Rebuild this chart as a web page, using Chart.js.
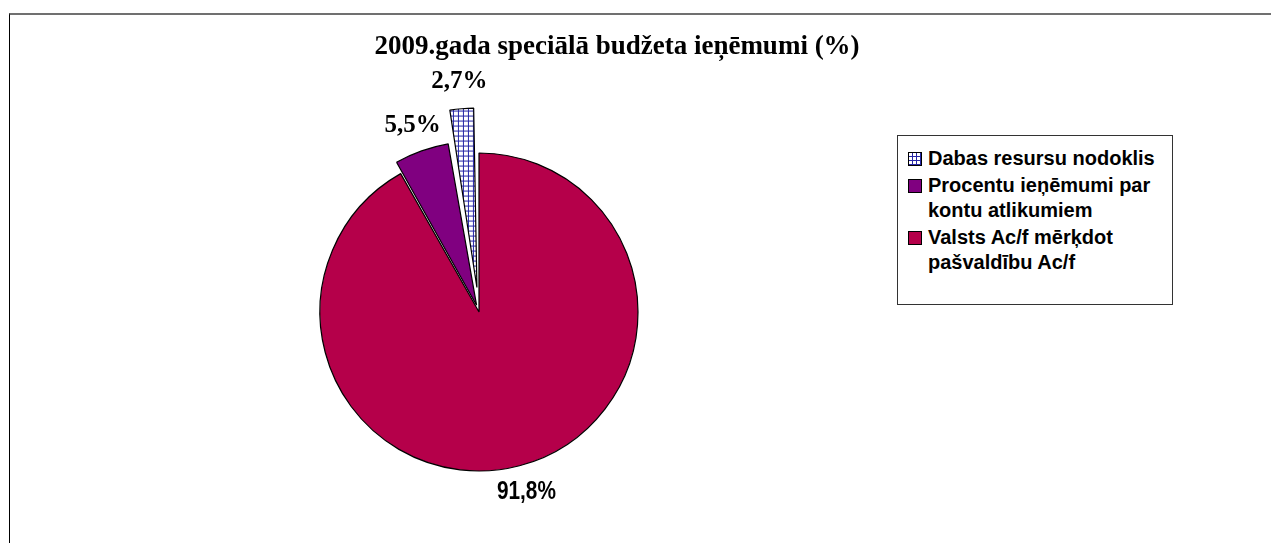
<!DOCTYPE html>
<html>
<head>
<meta charset="utf-8">
<script src="https://cdn.jsdelivr.net/npm/chart.js@4.4.1/dist/chart.umd.min.js"></script>
<style>
  html, body { margin: 0; padding: 0; background: #fff; }
  body { width: 1271px; height: 543px; position: relative; overflow: hidden; }
  #frame { position: absolute; left: 9px; top: 13px; right: 0; bottom: 0;
           border-top: 2px solid #707070; border-left: 1px solid #000; }
  #chartWrap { position: absolute; left: 0; top: 0; width: 1271px; height: 543px; }
  #title { position: absolute; left: 0; width: 1234px; top: 30px; text-align: center;
           font: bold 27px/30px "Liberation Serif", "Times New Roman", serif; color: #000; }
  #legend { position: absolute; left: 897px; top: 135px; width: 276px; height: 170px;
            box-sizing: border-box; border: 1px solid #333; background: #fff;
            padding: 10px 0 0 10px;
            font: bold 20px "Liberation Sans", Arial, sans-serif; color: #000; }
  .item { display: flex; align-items: flex-start; margin-bottom: 2px; line-height: 25px; }
  .swatch { width: 12px; height: 12px; border: 1px solid #000; margin: 6px 6px 0 0; flex: none; }
  .grid { background-color: #fff;
          background-image: linear-gradient(#2626a6 1px, transparent 1px),
                            linear-gradient(90deg, #2626a6 1px, transparent 1px);
          background-size: 4px 4px; background-position: -1px -1px; }
</style>
</head>
<body>
<div id="frame"></div>
<div id="chartWrap"><canvas id="pieChart"></canvas></div>
<div id="title">2009.gada speciālā budžeta ieņēmumi (%)</div>
<div id="legend"></div>
<script>
// data, in the order of the legend
const categories = [
    ['Dabas resursu nodoklis'],
    ['Procentu ieņēmumi par', 'kontu atlikumiem'],
    ['Valsts Ac/f mērķdot', 'pašvaldību Ac/f']
];
const shares = [2.7, 5.5, 91.8];

// styles (same order)
const sliceColors = [null, '#800080', '#b5004a']; // null -> grid pattern
const sliceShift = [45, 12, 0];   // how far a slice is pulled out, px
const labelFonts = [
    'bold 25px "Liberation Serif", "Times New Roman", serif',
    'bold 25px "Liberation Serif", "Times New Roman", serif',
    'bold 26px "Liberation Sans", Arial, sans-serif'
];
const labelSqueeze = [1, 1, 0.8];
const labelGap = 27;

function gridPattern() {
    const c = document.createElement('canvas');
    c.width = 5; c.height = 5;
    const g = c.getContext('2d');
    g.fillStyle = '#fff'; g.fillRect(0, 0, 5, 5);
    g.fillStyle = '#2626a6';
    g.fillRect(0, 0, 5, 1);
    g.fillRect(0, 0, 1, 5);
    return g.createPattern(c, 'repeat');
}

// Chart.js arcs move by offset/4 * (2 - sin(sweep)); turn a wanted shift into that option
const total = shares.reduce((a, b) => a + b, 0);
const toOffset = (shift, v) => {
    const sweep = Math.min(Math.PI, 2 * Math.PI * v / total);
    return shift / (0.25 * (2 - Math.sin(sweep)));
};

const fills = sliceColors.map(c => c || gridPattern());
// pie goes clockwise from 12 o'clock in reverse legend order
const rev = a => a.slice().reverse();

const sliceLabels = {
    id: 'sliceLabels',
    afterDatasetsDraw(chart) {
        const ctx = chart.ctx;
        const ds = chart.data.datasets[0];
        const fonts = rev(labelFonts), squeeze = rev(labelSqueeze), shift = rev(sliceShift);
        chart.getDatasetMeta(0).data.forEach((arc, i) => {
            const p = arc.getProps(['x', 'y', 'startAngle', 'endAngle', 'outerRadius'], true);
            const mid = (p.startAngle + p.endAngle) / 2;
            const d = shift[i] + p.outerRadius + labelGap;
            ctx.save();
            ctx.translate(p.x + Math.cos(mid) * d, p.y + Math.sin(mid) * d);
            ctx.scale(squeeze[i], 1);
            ctx.font = fonts[i];
            ctx.fillStyle = '#000';
            ctx.textAlign = 'center';
            ctx.textBaseline = 'middle';
            ctx.fillText(ds.data[i].toFixed(1).replace('.', ',') + '%', 0, 0);
            ctx.restore();
        });
    }
};

new Chart(document.getElementById('pieChart'), {
    type: 'pie',
    data: {
        labels: rev(categories),
        datasets: [{
            data: rev(shares),
            backgroundColor: rev(fills),
            borderColor: '#000',
            borderWidth: 1.2,
            offset: rev(sliceShift.map((s, i) => toOffset(s, shares[i]))),
            hoverOffset: 0
        }]
    },
    options: {
        responsive: true,
        maintainAspectRatio: false,
        animation: false,
        events: [],
        radius: 159,
        layout: { padding: { left: 309, right: 622, top: 142, bottom: 61 } },
        plugins: { legend: { display: false }, tooltip: { enabled: false } }
    },
    plugins: [sliceLabels]
});

// html legend
const legend = document.getElementById('legend');
categories.forEach((lines, i) => {
    const item = document.createElement('div');
    item.className = 'item';
    const sw = document.createElement('div');
    sw.className = 'swatch' + (sliceColors[i] ? '' : ' grid');
    if (sliceColors[i]) sw.style.background = sliceColors[i];
    const txt = document.createElement('div');
    txt.innerHTML = lines.join('<br>');
    item.appendChild(sw);
    item.appendChild(txt);
    legend.appendChild(item);
});
</script>
</body>
</html>
